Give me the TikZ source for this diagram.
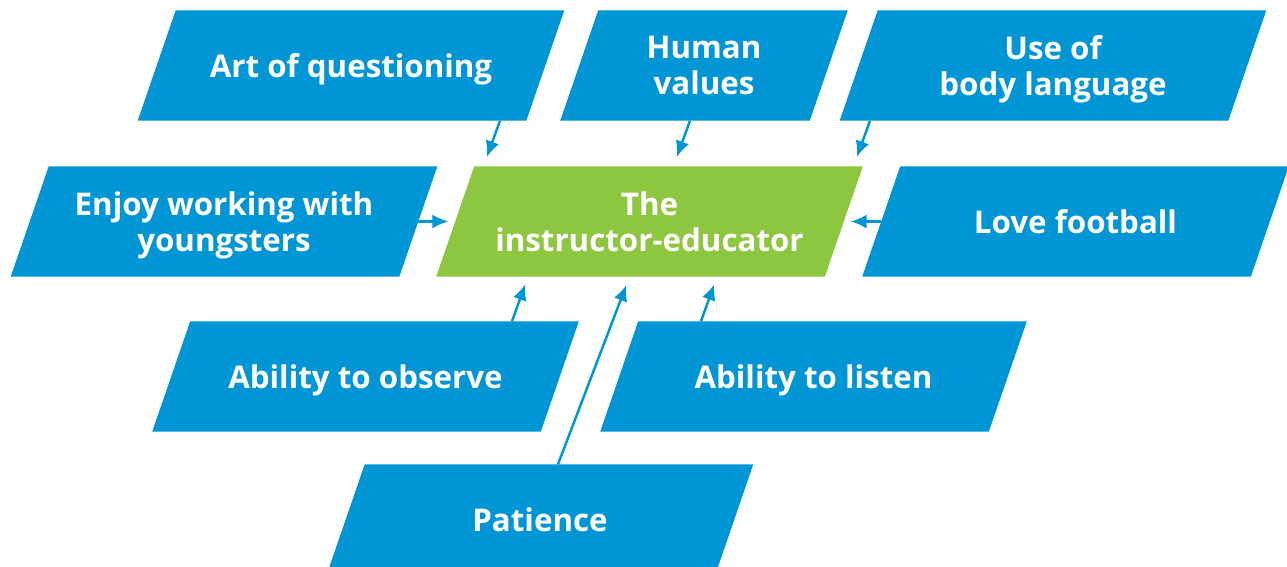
\documentclass[tikz,border=0pt]{standalone}
\usepackage{fontspec}
\setmainfont{Open Sans}
\usetikzlibrary{arrows.meta,backgrounds}
\definecolor{boxblue}{RGB}{0,150,214}
\definecolor{boxgreen}{RGB}{141,198,63}

\begin{document}
\begin{tikzpicture}[x=0.01cm, y=-0.01cm,
	item/.style={rectangle, minimum width=3.87cm, minimum height=1.09cm,
		text=white, align=center, inner sep=0pt, text depth=0pt,
		font=\fontsize{8.9}{10.2}\selectfont\bfseries},
	arr/.style={boxblue, line width=0.7pt, -{Latex[length=4.5pt,width=4pt]}}]
	\useasboundingbox (0,0) rectangle (1287,566);

	\node[item] (art) at (351,65.5) {Art of questioning};
	\node[item, minimum width=2.48cm] (hum) at (704,65.5) {Human\\values};
	\node[item] (body) at (1053,65.5) {Use of\\body language};
	\node[item] (enjoy) at (224,221.5) {Enjoy working with\\youngsters};
	\node[item] (edu) at (649.5,221.5) {The\\instructor-educator};
	\node[item] (love) at (1075.5,221.5) {Love football};
	\node[item] (obs) at (365.5,376.5) {Ability to observe};
	\node[item] (lis) at (813.5,376.5) {Ability to listen};
	\node[item] (pat) at (540,519.5) {Patience};

	% slanted boxes behind the texts
	\begin{scope}[on background layer]
		\foreach \n/\c in {art/boxblue, hum/boxblue, body/boxblue, enjoy/boxblue, edu/boxgreen,
				love/boxblue, obs/boxblue, lis/boxblue, pat/boxblue} {
			\fill[\c] ([xshift=0.19cm]\n.north west) -- ([xshift=0.19cm]\n.north east)
				-- ([xshift=-0.19cm]\n.south east) -- ([xshift=-0.19cm]\n.south west) -- cycle;
		}
	\end{scope}

	\draw[arr, shorten >=0.1cm] ([shift={(149,0)}]art.south) -- ([shift={(-166,0)}]edu.north);
	\draw[arr, shorten >=0.1cm] ([shift={(-14,0)}]hum.south) -- ([shift={(24,0)}]edu.north);
	\draw[arr, shorten >=0.1cm] ([shift={(-183,0)}]body.south) -- ([shift={(204,0)}]edu.north);
	\draw[arr, shorten >=0.07cm] (enjoy.east) -- (edu.west);
	\draw[arr, shorten >=0.07cm] (love.west) -- (edu.east);
	\draw[arr, shorten >=0.08cm] ([shift={(146.5,0)}]obs.north) -- ([shift={(-121.5,0)}]edu.south);
	\draw[arr, shorten >=0.09cm] ([shift={(18,0)}]pat.north) -- ([shift={(-20,0)}]edu.south);
	\draw[arr, shorten >=0.08cm] ([shift={(-112.5,0)}]lis.north) -- ([shift={(67.5,0)}]edu.south);
\end{tikzpicture}
\end{document}
